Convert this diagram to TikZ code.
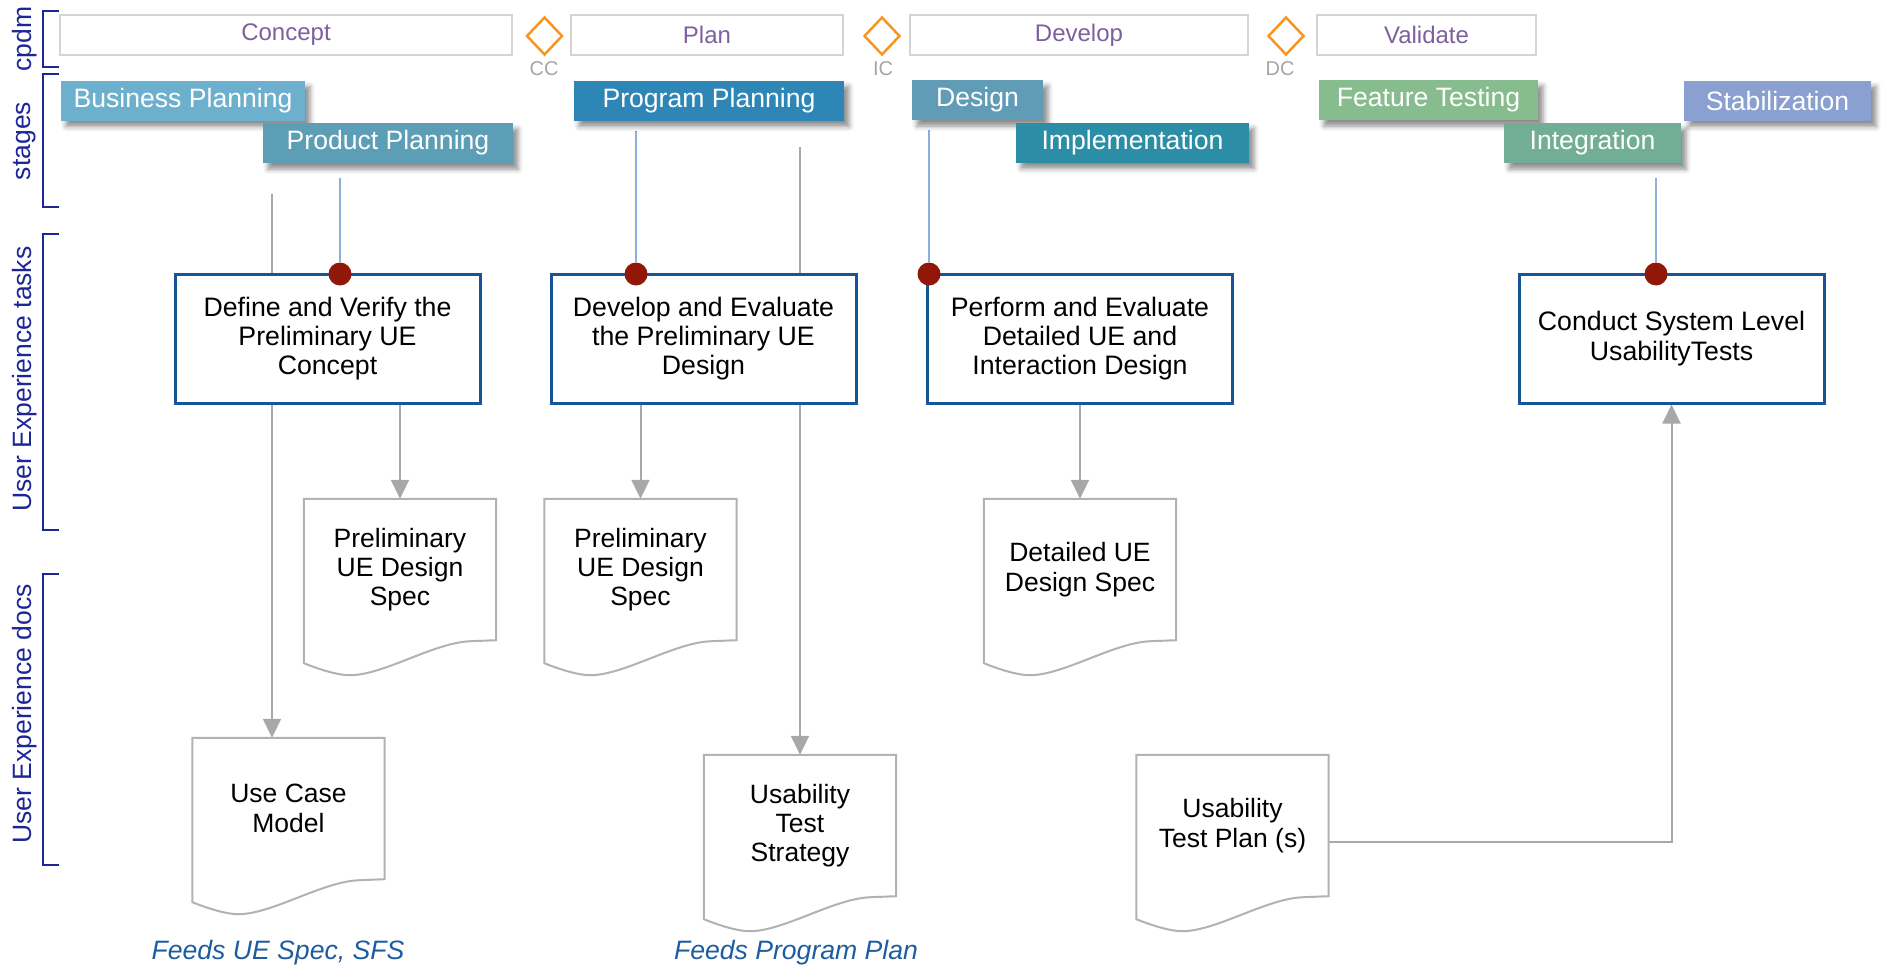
\documentclass[tikz,border=0pt]{standalone}
\usepackage{fontspec}
\setmainfont{Liberation Sans}
\usepackage{xcolor}
\usepackage{tikz}
\usetikzlibrary{shapes.geometric,arrows.meta,calc,backgrounds,shadows,shadows.blur}

\definecolor{phasegray}{RGB}{212,212,212}
\definecolor{phasetext}{RGB}{125,96,158}
\definecolor{gateorange}{RGB}{246,150,32}
\definecolor{gatetext}{RGB}{165,165,165}
\definecolor{rownavy}{RGB}{28,38,150}
\definecolor{taskblue}{RGB}{22,86,152}
\definecolor{dotred}{RGB}{145,24,8}
\definecolor{linkblue}{RGB}{140,176,222}
\definecolor{flowgray}{RGB}{168,168,168}
\definecolor{docgray}{RGB}{178,178,178}
\definecolor{feedblue}{RGB}{30,92,160}
\definecolor{bizcol}{RGB}{108,176,205}
\definecolor{prodcol}{RGB}{92,158,182}
\definecolor{progcol}{RGB}{46,134,182}
\definecolor{dsgncol}{RGB}{96,156,182}
\definecolor{implcol}{RGB}{44,142,166}
\definecolor{featcol}{RGB}{134,188,142}
\definecolor{integcol}{RGB}{114,174,150}
\definecolor{stabcol}{RGB}{138,160,208}

\newcommand{\docoutline}[1]{%
  \draw[docline] (#1.south west) -- (#1.north west) -- (#1.north east) -- (#1.south east)
    -- ($(#1.south east)+(-25,1)$)
    .. controls ($(#1.south east)+(-62,2)$) and ($(#1.south west)+(80,35)$) .. ($(#1.south west)+(46,35)$)
    .. controls ($(#1.south west)+(36,35)$) and ($(#1.south west)+(20,31)$) .. ($(#1.south west)+(0,23)$)
    -- cycle;}

\begin{document}
\begin{tikzpicture}[x=1pt,y=-1pt]
\tikzstyle{rowlabel}=[text=rownavy, rotate=90, font=\fontsize{26.5}{29}\selectfont];
\tikzstyle{bracket}=[draw=rownavy, line width=2.5pt];
\tikzstyle{phase}=[draw=phasegray, line width=2.5pt, fill=white, minimum height=40pt, inner sep=0pt, text=phasetext, font=\fontsize{24}{28}\selectfont];
\tikzstyle{gate}=[diamond, draw=gateorange, line width=2.5pt, minimum width=36pt, minimum height=38pt, inner sep=0pt];
\tikzstyle{gatelabel}=[text=gatetext, font=\fontsize{20}{24}\selectfont];
\tikzstyle{stage}=[text=white, minimum height=40pt, inner sep=0pt, font=\fontsize{26.6}{30}\selectfont,
  blur shadow={shadow xshift=5pt, shadow yshift=-6pt, shadow blur radius=5pt, shadow opacity=45}];
\tikzstyle{task}=[draw=taskblue, line width=3pt, fill=white, minimum width=305pt, minimum height=129pt, align=center, inner sep=0pt, font=\fontsize{26.7}{29.3}\selectfont];
\tikzstyle{docbox}=[minimum width=192pt, minimum height=141pt, align=center, inner sep=0pt, font=\fontsize{26.5}{29.3}\selectfont];
\tikzstyle{docline}=[draw=docgray, line width=2pt, fill=white];
\tikzstyle{reddot}=[circle, fill=dotred, minimum size=23pt, inner sep=0pt];
\tikzstyle{bluelink}=[draw=linkblue, line width=1.5pt];
\tikzstyle{flow}=[draw=flowgray, line width=2pt, -{Triangle[width=18pt,length=19pt]}];
\tikzstyle{feed}=[text=feedblue, font=\fontsize{26.6}{30}\selectfont\itshape];

\useasboundingbox (0,0) rectangle (1883,969);

\node[rowlabel] (cpdm) at (25,39) {cpdm};
\node[rowlabel] (stages) at (25,141) {stages};
\node[rowlabel] (tasks) at (25,379) {User Experience tasks};
\node[rowlabel] (docs) at (25,714) {User Experience docs};
\draw[bracket] (59,11) -- (43,11) -- (43,67) -- (59,67);
\draw[bracket] (59,74) -- (43,74) -- (43,207) -- (59,207);
\draw[bracket] (59,234) -- (43,234) -- (43,530) -- (59,530);
\draw[bracket] (59,574) -- (43,574) -- (43,865) -- (59,865);

\node[phase, minimum width=452pt] (concept) at (286,35) {Concept};
\node[phase, minimum width=272pt] (plan) at (707,35) {Plan};
\node[phase, minimum width=338pt] (develop) at (1079,35) {Develop};
\node[phase, minimum width=219pt] (validate) at (1426.5,35) {Validate};
\node[gate] (cc) at (544.5,36) {};
\node[gate] (ic) at (882,36) {};
\node[gate] (dc) at (1286,36) {};
\node[gatelabel] (cc-label) at (544,69) {CC};
\node[gatelabel] (ic-label) at (883,69) {IC};
\node[gatelabel] (dc-label) at (1280,69) {DC};

\node[stage, fill=bizcol, minimum width=244pt] (bizplan) at (183,100.5) {Business Planning};
\node[stage, fill=prodcol, minimum width=250pt] (prodplan) at (388,143) {Product Planning};
\node[stage, fill=progcol, minimum width=270pt] (progplan) at (709,100.5) {Program Planning};
\node[stage, fill=dsgncol, minimum width=131pt] (design) at (977.5,100) {Design};
\node[stage, fill=implcol, minimum width=233pt] (impl) at (1132.5,142.5) {Implementation};
\node[stage, fill=featcol, minimum width=219pt] (feattest) at (1428.5,100) {Feature Testing};
\node[stage, fill=integcol, minimum width=177pt] (integ) at (1592.5,143) {Integration};
\node[stage, fill=stabcol, minimum width=187pt] (stab) at (1777.5,100.5) {Stabilization};

\node[task] (define) at (327.5,338.5) {Define and Verify the\\Preliminary UE\\Concept};
\node[task] (evaluate) at (703.5,338.5) {Develop and Evaluate\\the Preliminary UE\\Design};
\node[task] (perform) at (1080,338.5) {Perform and Evaluate\\Detailed UE and\\Interaction Design};
\node[task] (conduct) at (1671.5,338.5) {Conduct System Level\\UsabilityTests};

\node[reddot] (dot-define) at (340,274) {};
\node[reddot] (dot-evaluate) at (636,274) {};
\node[reddot] (dot-perform) at (929,274) {};
\node[reddot] (dot-conduct) at (1656,274) {};

\node[docbox] (prelim1) at (400,569.5) {Preliminary\\UE Design\\Spec};
\node[docbox] (prelim2) at (640.5,569.5) {Preliminary\\UE Design\\Spec};
\node[docbox] (detailed) at (1080,569.5) {Detailed UE\\Design Spec};
\node[docbox] (usecase) at (288.5,808.5) {Use Case\\Model};
\node[docbox] (strategy) at (800,825.5) {Usability\\Test\\Strategy};
\node[docbox] (testplan) at (1232.5,825.5) {Usability\\Test Plan (s)};

\node[feed] (feeds-spec) at (278,953) {Feeds UE Spec, SFS};
\node[feed] (feeds-plan) at (796,953) {Feeds Program Plan};

\coordinate (bizplan-out) at (272,194);
\coordinate (progplan-out) at (800,147);

\begin{scope}[on background layer]
\draw[bluelink, shorten <=15pt] (prodplan.south -| dot-define) -- (dot-define);
\draw[bluelink, shorten <=10pt] (progplan.south -| dot-evaluate) -- (dot-evaluate);
\draw[bluelink, shorten <=10pt] (design.south -| dot-perform) -- (dot-perform);
\draw[bluelink, shorten <=15pt] (integ.south -| dot-conduct) -- (dot-conduct);

\draw[flow] (bizplan-out) -- (bizplan-out |- usecase.north);
\draw[flow] (progplan-out) -- (strategy.north);
\draw[flow] (prelim1.north |- define.south) -- (prelim1.north);
\draw[flow] (prelim2.north |- evaluate.south) -- (prelim2.north);
\draw[flow] (perform.south) -- (detailed.north);
\draw[flow] ($(testplan.east)+(0,16)$) -| (conduct.south);

\docoutline{prelim1}
\docoutline{prelim2}
\docoutline{detailed}
\docoutline{usecase}
\docoutline{strategy}
\docoutline{testplan}
\end{scope}
\end{tikzpicture}
\end{document}
